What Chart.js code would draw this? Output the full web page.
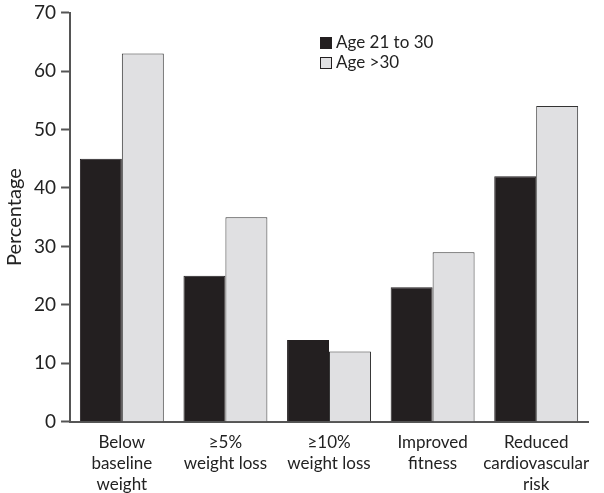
<!DOCTYPE html>
<html>
<head>
<meta charset="utf-8">
<script src="https://cdn.jsdelivr.net/npm/chart.js@4/dist/chart.umd.min.js"></script>
<style>
  html, body { margin: 0; padding: 0; background: #fff; }
  #wrap { position: relative; width: 604px; height: 493px; }
  #legend { position: absolute; left: 320px; top: 32px; font-family: Lato, sans-serif; font-size: 17px; color: #222; line-height: 20px; }
  #legend span.sw { display: inline-block; width: 12px; height: 12px; border: 1px solid #231f20; margin-right: 4px; vertical-align: -1px; box-sizing: border-box; }
</style>
</head>
<body>
<div id="wrap">
  <canvas id="grafica"></canvas>
  <div id="legend"></div>
</div>
<script>
const categorias = [
  ['Below', 'baseline', 'weight'],
  ['\u22655%', 'weight loss'],
  ['\u226510%', 'weight loss'],
  ['Improved', 'fitness'],
  ['Reduced', 'cardiovascular', 'risk']
];
const series = ['Age 21 to 30', 'Age >30'];
const edad21a30 = [45, 25, 14, 23, 42];
const edadMas30 = [63, 35, 12, 29, 54];
const colores = ['#231f20', '#e0e0e2'];

const ctx = document.getElementById('grafica').getContext('2d');

new Chart(ctx, {
  type: 'bar',
  data: {
    labels: categorias,
    datasets: [
      { label: series[0], data: edad21a30, backgroundColor: colores[0], borderColor: '#231f20', borderWidth: 1 },
      { label: series[1], data: edadMas30, backgroundColor: colores[1], borderColor: '#333', borderWidth: 1 }
    ]
  },
  options: {
    responsive: true,
    maintainAspectRatio: false,
    animation: false,
    categoryPercentage: 0.81,
    barPercentage: 1,
    layout: { padding: { top: 12, right: 16, left: 3, bottom: -12 } },
    plugins: {
      legend: { display: false },
      tooltip: { enabled: false }
    },
    scales: {
      x: {
        grid: { display: false, drawTicks: false },
        border: { display: true, color: '#555', width: 2 },
        ticks: { color: '#222', font: { family: 'Lato', size: 17, lineHeight: 1.24 }, padding: 10, maxRotation: 0, autoSkip: false }
      },
      y: {
        min: 0,
        max: 70,
        ticks: { stepSize: 10, color: '#222', font: { family: 'Lato', size: 19, lineHeight: 0.8 }, padding: 5 },
        grid: { drawOnChartArea: false, tickLength: 9, tickColor: '#555', tickWidth: 2 },
        border: { color: '#555', width: 2 },
        title: { display: true, text: 'Percentage', color: '#222', font: { family: 'Lato', size: 20 }, padding: { top: 0, bottom: 2 } }
      }
    }
  }
});

document.getElementById('legend').innerHTML = series.map((s, i) =>
  '<div><span class="sw" style="background:' + colores[i] + '"></span>' + s.replace('>', '&gt;') + '</div>'
).join('');
</script>
</body>
</html>
